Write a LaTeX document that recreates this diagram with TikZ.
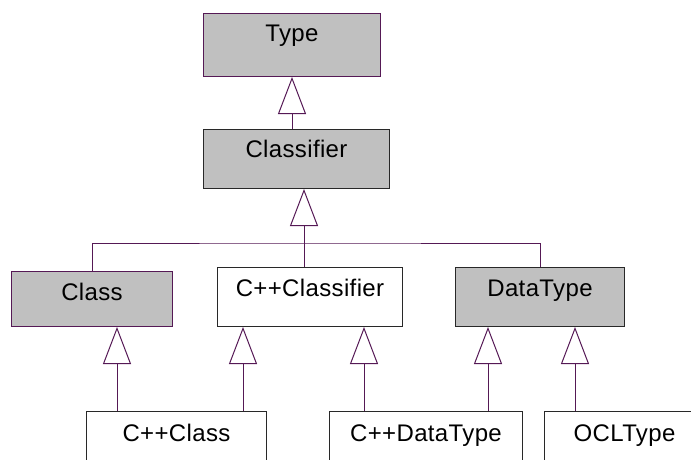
\documentclass[tikz,border=0pt]{standalone}
\usepackage{fontspec}
\setmainfont[LetterSpace=1.5]{Liberation Sans}
\usetikzlibrary{arrows.meta}
\definecolor{umlline}{RGB}{85,25,85}
\definecolor{umlfill}{RGB}{192,192,192}
\definecolor{umledge}{RGB}{40,40,40}
\tikzset{
  cls/.style={draw=umledge, anchor=north west, inner sep=0pt, line width=1pt,
    text height=29pt, text depth=30pt, font=\fontsize{24}{28}\selectfont},
  conn/.style={draw=umlline, line width=1pt},
  inherit/.style={conn, -{Triangle[open, length=37pt, width=28pt]}}
}
\begin{document}
\begin{tikzpicture}[x=1pt,y=-1pt]
  \useasboundingbox (0,0) rectangle (691,460);
  \clip (0,0) rectangle (691,460);
  % classes
  \node[cls, draw=umlline, fill=umlfill, minimum width=177pt, text height=28pt, text depth=35pt] (type) at (203,13) {Type};
  \node[cls, fill=umlfill, minimum width=186pt, text height=28pt, text depth=31pt] (classifier) at (203,129) {Classifier};
  \node[cls, draw=umlline, fill=umlfill, minimum width=161pt, text depth=26pt] (class) at (11,271) {Class};
  \node[cls, minimum width=185pt] (cppclassifier) at (217,267) {C++Classifier};
  \node[cls, fill=umlfill, minimum width=169pt] (datatype) at (455,267) {DataType};
  \node[cls, minimum width=180pt, text height=30pt] (cppclass) at (86,411) {C++Class};
  \node[cls, minimum width=193pt, text height=30pt] (cppdatatype) at (329,411) {C++DataType};
  \node[cls, minimum width=160pt, text height=30pt] (ocltype) at (544,411) {OCLType};
  % generalizations
  \draw[inherit] (classifier.north -| type.south) -- (type.south);
  \coordinate (join) at (304,243);
  \draw[conn] (class.north) |- (join) -| (datatype.north);
  \draw[conn] (join) -- (join |- cppclassifier.north);
  \draw[inherit] (join) -- (join |- classifier.south);
  \coordinate (c1) at (117,411);
  \coordinate (c2) at (243,411);
  \coordinate (c3) at (364,411);
  \coordinate (c4) at (488,411);
  \coordinate (c5) at (575,411);
  \draw[inherit] (c1) -- (c1 |- class.south);
  \draw[inherit] (c2) -- (c2 |- cppclassifier.south);
  \draw[inherit] (c3) -- (c3 |- cppclassifier.south);
  \draw[inherit] (c4) -- (c4 |- datatype.south);
  \draw[inherit] (c5) -- (c5 |- datatype.south);
\end{tikzpicture}
\end{document}
